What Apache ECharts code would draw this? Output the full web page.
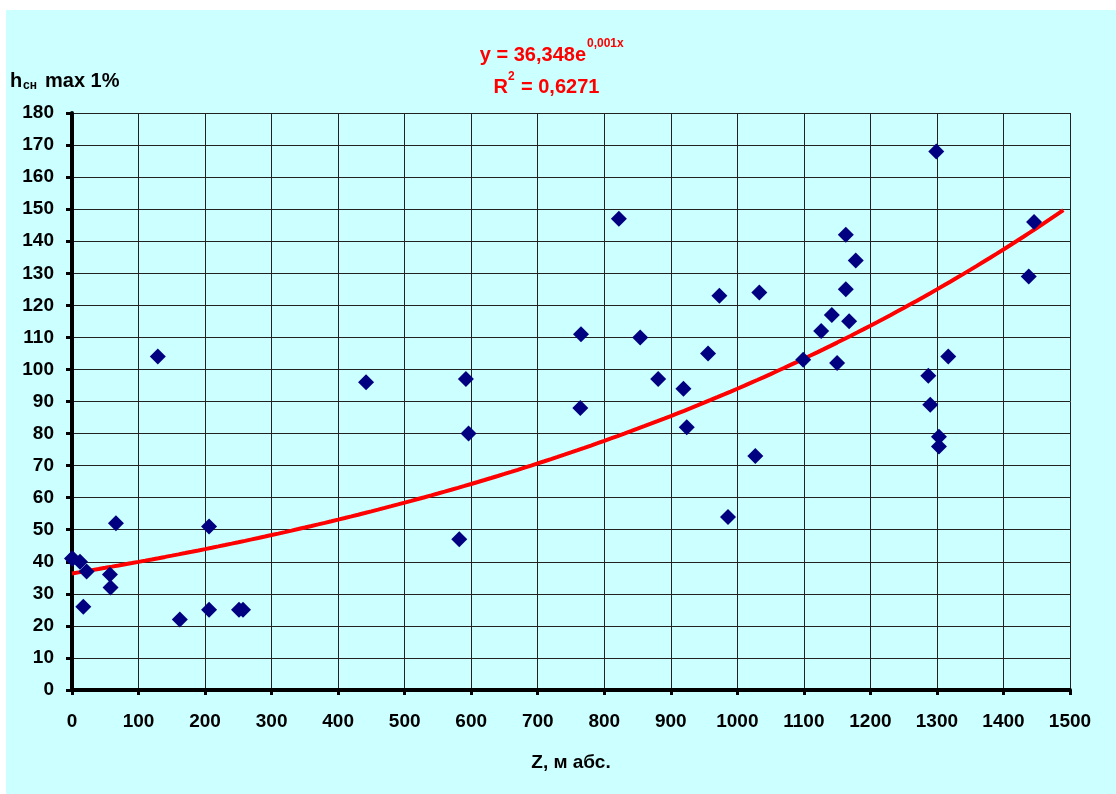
<!DOCTYPE html>
<html>
<head>
<meta charset="utf-8">
<script src="https://cdn.jsdelivr.net/npm/echarts@6/dist/echarts.min.js"></script>
<style>
html,body{margin:0;padding:0;background:#fff;}
#bg{position:absolute;left:6px;top:10px;width:1110px;height:784px;background:#CCFFFF;}
#chart{position:absolute;left:0;top:0;width:1116px;height:794px;}
</style>
</head>
<body>
<div id="bg"></div>
<div id="chart"></div>
<script>
// Data
const zValues = [0, 1, 12, 22, 17, 66, 57, 58, 129, 162, 206, 206, 251, 257,
  442, 582, 592, 596, 764, 765, 822, 854, 881, 919, 924, 956, 973, 986, 1027, 1033,
  1099, 1126, 1142, 1150, 1163, 1163, 1168, 1178, 1287, 1290, 1299, 1303, 1303, 1317, 1438, 1446];
const hValues = [41, 41, 40, 37, 26, 52, 36, 32, 104, 22, 51, 25, 25, 25,
  96, 47, 97, 80, 88, 111, 147, 110, 97, 94, 82, 105, 123, 54, 73, 124,
  103, 112, 117, 102, 142, 125, 115, 134, 98, 89, 168, 79, 76, 104, 129, 146];
const xTicks = [0,100,200,300,400,500,600,700,800,900,1000,1100,1200,1300,1400,1500];
const yTicks = [0,10,20,30,40,50,60,70,80,90,100,110,120,130,140,150,160,170,180];
// Exponential trend line y = A * e^(k x)
const trendA = 36.348;
const trendK = 0.00095;
const trendXStart = 0, trendXEnd = 1490;

const points = zValues.map((z, i) => [z, hValues[i]]);
const trend = [];
for (let x = trendXStart; x <= trendXEnd; x += 10) trend.push([x, trendA * Math.exp(trendK * x)]);

const chart = echarts.init(document.getElementById('chart'));
const font = 'Arial, "Liberation Sans", sans-serif';
function txt(x, y, text, size, color, align) {
  return {type: 'text', x: x, y: y, silent: true,
    style: {text: text, fontFamily: font, fontSize: size, fontWeight: 'bold', fill: color,
      align: align || 'left', verticalAlign: 'top'}};
}
chart.setOption({
  backgroundColor: 'transparent',
  animation: false,
  textStyle: {fontFamily: font},
  graphic: [
    // y-axis title: h_сн max 1%
    txt(10, 71, 'h', 20, '#000'),
    txt(23, 80, 'сн', 12, '#000'),
    txt(45, 71, 'max 1%', 20, '#000'),
    // trend equation
    txt(586, 45, 'y = 36,348e', 20, '#FF0000', 'right'),
    txt(587, 38, '0,001x', 12, '#FF0000'),
    txt(508, 77, 'R', 20, '#FF0000', 'right'),
    txt(508, 71, '2', 12, '#FF0000'),
    txt(521, 77, '= 0,6271', 20, '#FF0000')
  ],
  grid: {left: 72, right: 46, top: 113, bottom: 104, containLabel: false},
  xAxis: {
    type: 'value', min: 0, max: 1500, interval: 100,
    name: 'Z, м абс.', nameLocation: 'middle', nameGap: 63,
    nameTextStyle: {fontFamily: font, fontSize: 19, fontWeight: 'bold', color: '#000'},
    axisLine: {show: true, onZero: false, lineStyle: {color: '#000', width: 4}},
    axisTick: {show: true, length: 5, lineStyle: {color: '#000', width: 3}},
    axisLabel: {fontFamily: font, fontSize: 19, fontWeight: 'bold', color: '#000', margin: 22,
      formatter: v => xTicks.includes(v) ? String(v) : ''},
    splitLine: {show: true, lineStyle: {color: '#222', width: 1}}
  },
  yAxis: {
    type: 'value', min: 0, max: 180, interval: 10,
    axisLine: {show: true, onZero: false, lineStyle: {color: '#000', width: 4}},
    axisTick: {show: true, length: 6, lineStyle: {color: '#000', width: 3}},
    axisLabel: {fontFamily: font, fontSize: 19, fontWeight: 'bold', color: '#000', margin: 18,
      formatter: v => yTicks.includes(v) ? String(v) : ''},
    splitLine: {show: true, lineStyle: {color: '#222', width: 1}}
  },
  series: [
    {
      type: 'line', data: trend, showSymbol: false, smooth: false,
      lineStyle: {color: '#FF0000', width: 4}, z: 2, silent: true
    },
    {
      type: 'scatter', data: points, symbol: 'diamond', symbolSize: 16,
      itemStyle: {color: '#000080', opacity: 1}, z: 3
    }
  ]
});
</script>
</body>
</html>
